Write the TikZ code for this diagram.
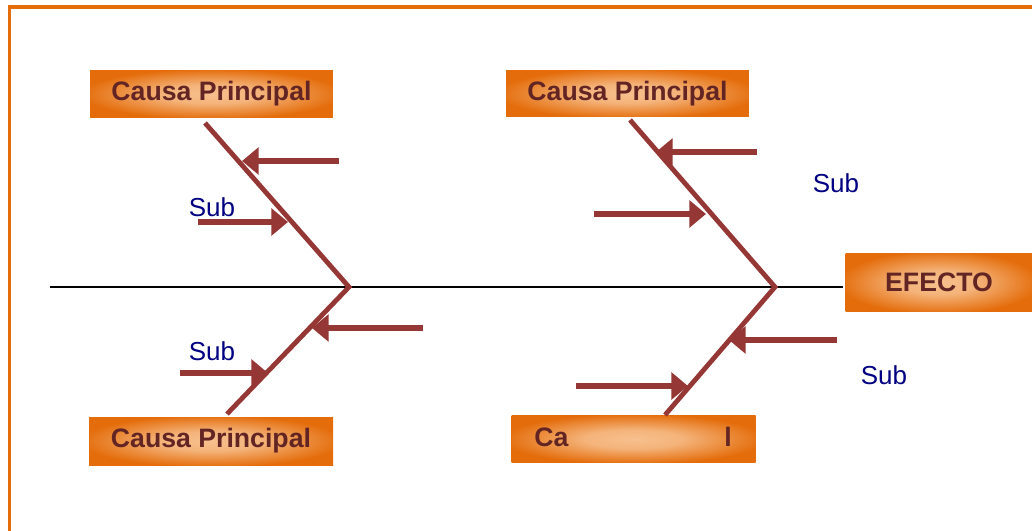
\documentclass[tikz,border=0pt]{standalone}
\usepackage{fontspec}
\setmainfont{Liberation Sans}
\usepackage{xcolor}
\usetikzlibrary{arrows.meta}
\definecolor{naranja}{HTML}{E46C0A}
\definecolor{durazno}{HTML}{F7C08E}
\definecolor{espina}{HTML}{953735}
\definecolor{letra}{HTML}{632523}
\definecolor{azulsub}{HTML}{000080}
\pgfdeclareradialshading{brillo}{\pgfpoint{0bp}{0bp}}{%
	color(0bp)=(durazno); color(10bp)=(durazno!85!naranja);
	color(22bp)=(durazno!25!naranja); color(27bp)=(naranja); color(50bp)=(naranja)}
\tikzset{
	letrero/.style={text=letra, inner sep=0pt, font=\fontsize{20}{24}\selectfont\bfseries},
	causa/.style={
			letrero, draw=none, rectangle, shading=brillo,
			minimum width=182pt, minimum height=35pt
		},
	sub/.style={text=azulsub, font=\fontsize{19.5}{23}\selectfont, inner sep=0pt},
	bone/.style={draw=espina, line width=3.6pt, line cap=butt},
	flecha/.style={draw=espina, line width=4pt,
			-{Triangle[length=12.5pt, width=20pt, fill=espina]}}
}

\begin{document}
\begin{tikzpicture}[x=0.75pt, y=-0.75pt]

			\useasboundingbox (0,0) rectangle (1032,531);

			% Draw the frame
			\draw[naranja, line width=2.4pt] (9.5,540) -- (9.5,7) -- (1040,7);

			% Draw the spine
			\coordinate (cola) at (50,287);
			\node[causa, minimum width=140pt, minimum height=44pt] (efecto) at (939,282.5) {EFECTO};
			\draw[black, line width=1.5pt] (cola) -- (843,287);

			% Draw the boxes
			\node[causa] (causaTL) at (211.5,94) {Causa Principal};
			\node[causa] (causaTR) at (627.5,93.5) {Causa Principal};
			\node[causa, minimum width=183pt, minimum height=36pt] (causaBL) at (211,441) {Causa Principal};
			\node[causa, minimum width=183pt] (causaBR) at (633.5,439) {};
			\node[letrero, anchor=west] (ca) at (534,437) {Ca};
			\node[letrero, anchor=east] (ele) at (732,437) {l};

			% Draw the bones
			\coordinate (apexL) at (349,287);
			\coordinate (apexR) at (775,287);
			\draw[bone] (205,123) coordinate (topL) -- (apexL) -- (227,414) coordinate (botL);
			\draw[bone] (630,120) coordinate (topR) -- (apexR) -- (665,415) coordinate (botR);

			% Draw the sub causes
			\draw[flecha] (339,161) -- (242,161);
			\draw[flecha] (198,222) -- (288,222);
			\draw[flecha] (423,328) -- (312,328);
			\draw[flecha] (180,373) -- (268,373);
			\draw[flecha] (757,152) -- (656,152);
			\draw[flecha] (594,214) -- (706,214);
			\draw[flecha] (837,340) -- (729,340);
			\draw[flecha] (576,386) -- (688,386);

			% Draw the labels
			\node[sub] (sub1) at (212,207) {Sub};
			\node[sub] (sub2) at (212,351) {Sub};
			\node[sub] (sub3) at (836,183) {Sub};
			\node[sub] (sub4) at (884,375) {Sub};
		\end{tikzpicture}
\end{document}
